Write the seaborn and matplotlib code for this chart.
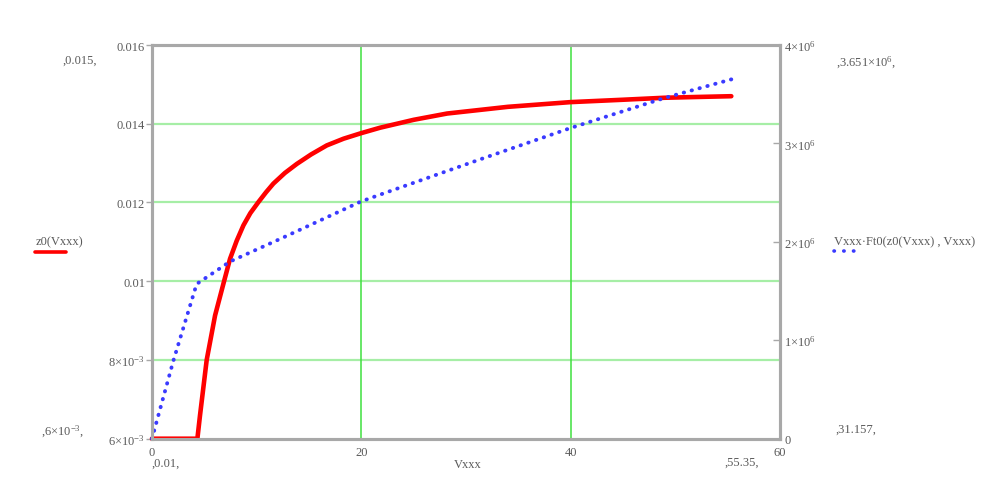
import numpy as np
import pandas as pd
import seaborn as sns
import matplotlib.pyplot as plt

# ------------------------------- DATA --------------------------------------
# z0(Vxxx), left axis
v_red = [0.0, 4.34, 4.59, 5.23, 6.03, 6.89, 7.46, 8.1, 8.74, 9.4, 10.17, 10.9,
         11.6, 12.7, 13.84, 15.2, 16.7, 18.3, 19.97, 21.8, 25.0, 28.2, 34.0,
         40.0, 45.0, 48.9, 52.0, 55.35]
z0 = [0.006, 0.006, 0.00659, 0.008, 0.00913, 0.0100, 0.01057, 0.01103, 0.01142,
      0.01173, 0.01201, 0.01226, 0.01248, 0.01275, 0.01298, 0.01322, 0.01345,
      0.01362, 0.01376, 0.01390, 0.01410, 0.01426, 0.01443, 0.01455, 0.01461,
      0.01466, 0.01468, 0.01470]

# Vxxx*Ft0(z0(Vxxx), Vxxx), right axis
v_blue = [0.0, 2.04, 4.27, 7.46, 12.25, 19.97, 21.8, 31.4, 40.0, 48.9, 55.35]
ft = [0.0, 0.79e6, 1.572e6, 1.80e6, 2.03e6, 2.41e6, 2.48e6, 2.84e6, 3.157e6,
      3.46e6, 3.651e6]

left_ticks = [0.006, 0.008, 0.010, 0.012, 0.014, 0.016]
left_labels = ['6×10$^{-3}$', '8×10$^{-3}$', '0.01', '0.012', '0.014', '0.016']
right_ticks = [0, 1e6, 2e6, 3e6, 4e6]
right_labels = ['0', '1×10$^{6}$', '2×10$^{6}$', '3×10$^{6}$', '4×10$^{6}$']
x_ticks = [0, 20, 40, 60]

df_red = pd.DataFrame({'Vxxx': v_red, 'z0': z0})
df_blue = pd.DataFrame({'Vxxx': v_blue, 'Ft': ft})

# ------------------------------- STYLE --------------------------------------
sns.set_style("white")
plt.rcParams['font.family'] = ['Liberation Serif', 'DejaVu Serif']
plt.rcParams['mathtext.fontset'] = 'custom'
plt.rcParams['mathtext.rm'] = 'Liberation Serif'
plt.rcParams['mathtext.it'] = 'Liberation Serif'

txt = '#5a5a5a'
axis_gray = '#a8a8a8'

fig = plt.figure(figsize=(10.01, 4.85), dpi=100)
ax = fig.add_axes([0.1518, 0.0934, 0.6274, 0.8117])
ax2 = ax.twinx()

# grid
for g in [0.008, 0.010, 0.012, 0.014]:
    ax.axhline(g, color='#a6eea6', lw=1.6, zorder=0)
for g in [20, 40]:
    ax.axvline(g, color='#3ee03e', lw=1.1, zorder=0)

sns.lineplot(data=df_red, x='Vxxx', y='z0', ax=ax, color='#ff0000', lw=3.3,
             clip_on=False, zorder=3)
sns.lineplot(data=df_blue, x='Vxxx', y='Ft', ax=ax2, color='#3a3aff', lw=2.8,
             linestyle=(0, (0.1, 2.0)), dash_capstyle='round', clip_on=False)

ax.set_xlim(0, 60)
ax.set_ylim(0.006, 0.016)
ax2.set_ylim(0, 4e6)

ax.set_xticks(x_ticks)
ax.set_xticklabels([str(t) for t in x_ticks])
ax.set_yticks(left_ticks)
ax.set_yticklabels(left_labels)
ax2.set_yticks(right_ticks)
ax2.set_yticklabels(right_labels)

ax.set_xlabel('')
ax.set_ylabel('')
ax2.set_ylabel('')

ax.tick_params(axis='x', length=0, pad=5, labelsize=9, labelcolor=txt)
ax.tick_params(axis='y', length=4, width=1, color=axis_gray, direction='out',
               pad=1, labelsize=9, labelcolor=txt)
ax2.tick_params(axis='y', length=5, width=1, color=axis_gray, direction='in',
                pad=3, labelsize=9, labelcolor=txt)

for a in (ax, ax2):
    for s in a.spines.values():
        s.set_color(axis_gray)
        s.set_linewidth(2.2)

# ------------------------------- ANNOTATIONS --------------------------------------
W, H = 1001, 485


def ftext(x, y, s, **kw):
    fig.text(x / W, 1 - y / H, s, color=txt, fontsize=9, va='center', **kw)


ftext(80, 61, ',0.015,', ha='center')
ftext(36, 242, 'z0(Vxxx)', ha='left')
ftext(63, 432, ',6×10$^{-3}$,', ha='center')
ftext(166, 464, ',0.01,', ha='center')
ftext(468, 465, 'Vxxx', ha='center')
ftext(742, 463, ',55.35,', ha='center')
ftext(866, 63, ',3.651×10$^{6}$,', ha='center')
ftext(834, 242, 'Vxxx\u00b7Ft0(z0(Vxxx) , Vxxx)', ha='left')
ftext(856, 430, ',31.157,', ha='center')

# legend samples
fig.add_artist(plt.Line2D([35 / W, 66 / W], [1 - 253 / H] * 2, color='#ff0000', lw=2.6))
fig.add_artist(plt.Line2D([834 / W, 858 / W], [1 - 252 / H] * 2, color='#3a3aff', lw=2.6,
                          linestyle=(0, (0.1, 2.6)), dash_capstyle='round'))

fig.savefig('out.png', dpi=100)
